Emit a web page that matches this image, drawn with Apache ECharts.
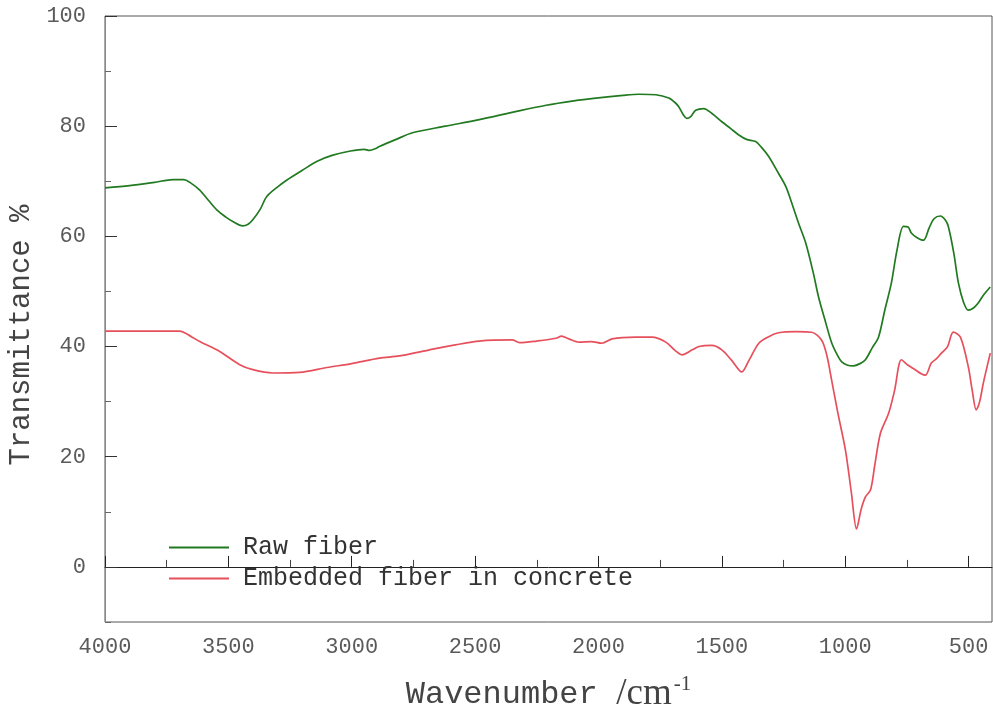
<!DOCTYPE html>
<html>
<head>
<meta charset="utf-8">
<script src="https://cdn.jsdelivr.net/npm/echarts@6/dist/echarts.min.js"></script>
<style>
html,body{margin:0;padding:0;background:#fff;}
#chart{width:993px;height:713px;}
</style>
</head>
<body>
<div id="chart"></div>
<script>
// Raw fiber spectrum (wavenumber cm^-1, transmittance %)
const rawWave = [4000,3900,3800,3725,3680,3656,3616,3580,3547,3510,3482,3442,3420,3401,3370,3345,3300,3264,3200,3142,3080,3005,2950,2928,2900,2888,2820,2754,2620,2483,2350,2212,2100,2010,1900,1836,1767,1715,1690,1674,1655,1642,1625,1606,1573,1540,1500,1465,1431,1400,1363,1340,1310,1271,1240,1217,1190,1160,1130,1108,1080,1055,1030,1014,990,966,940,918,890,865,840,813,790,764,745,732,710,683,660,640,614,595,582,560,541,520,501,480,461,440,412];
const rawT = [68.8,69.2,69.8,70.3,70.3,69.8,68.4,66.5,64.8,63.5,62.7,61.9,62.2,63.0,65.0,67.2,69.0,70.2,72.0,73.6,74.7,75.5,75.8,75.6,76.0,76.3,77.6,78.8,80.0,81.2,82.5,83.8,84.6,85.1,85.6,85.8,85.7,85.1,84.3,83.5,82.0,81.4,81.8,82.9,83.2,82.3,80.8,79.6,78.4,77.6,77.2,76.2,74.5,71.5,69.0,66.1,62.5,58.8,53.5,49.0,44.5,40.7,38.3,37.2,36.6,36.5,36.9,37.6,39.8,41.7,46.5,51.5,57.5,61.8,61.7,60.6,59.8,59.3,61.5,63.2,63.7,63.0,61.8,57.0,51.5,48.0,46.6,47.0,47.9,49.3,50.8];

// Embedded fiber in concrete spectrum
const embWave = [4000,3800,3697,3650,3616,3535,3454,3401,3320,3211,3100,3000,2888,2807,2685,2580,2483,2350,2320,2250,2172,2150,2120,2079,2030,1986,1945,1850,1783,1727,1690,1662,1620,1593,1541,1500,1460,1419,1390,1350,1310,1270,1200,1136,1096,1075,1055,1030,999,975,954,935,918,897,880,857,824,800,772,745,716,690,675,651,630,610,585,562,533,501,485,469,455,440,412];
const embT = [42.8,42.8,42.8,41.8,40.9,39.1,36.7,35.8,35.2,35.3,36.2,36.9,37.9,38.3,39.4,40.3,41.0,41.2,40.7,41.0,41.5,41.9,41.4,40.8,40.9,40.6,41.4,41.7,41.7,40.8,39.3,38.5,39.4,40.0,40.2,39.4,37.5,35.4,37.5,40.6,41.8,42.5,42.7,42.6,41.2,38.5,33.9,28.0,21.2,13.5,6.9,10.5,12.7,14.0,18.5,24.3,27.9,32.0,37.6,36.6,35.8,35.0,34.8,37.0,37.8,38.8,40.0,42.6,41.7,36.3,32.0,28.5,30.0,33.4,38.8];

const seriesNames = ['Raw fiber', 'Embedded fiber in concrete'];
const xMajor = [500,1000,1500,2000,2500,3000,3500,4000];
const xMinor = [750,1250,1750,2250,2750,3250,3750];
const yMajor = [0,20,40,60,80,100];
const yMinor = [-10,10,30,50,70,90];

const pairs = (xs, ys) => xs.map((x, i) => [x, ys[i]]);

const chart = echarts.init(document.getElementById('chart'));
const tickFont = {fontFamily: 'Liberation Mono', fontSize: 22, color: '#5a5a5a', formatter: v => String(v)};

chart.setOption({
  animation: false,
  backgroundColor: '#fff',
  grid: {left: 105, right: 1, top: 16, bottom: 91, show: true, borderColor: '#555', borderWidth: 1,
         containLabel: false, outerBoundsMode: 'none'},
  legend: {
    orient: 'vertical', left: 164, top: 530,
    icon: 'rect', itemWidth: 60, itemHeight: 2, itemGap: 6,
    textStyle: {fontFamily: 'Liberation Mono', fontSize: 25, color: '#333', padding: [0, 0, 0, 9]},
    data: seriesNames
  },
  xAxis: [
    {
      type: 'value', inverse: true, min: 405, max: 4000, position: 'bottom',
      axisLine: {show: true, lineStyle: {color: '#222', width: 1}},
      axisTick: {show: true, inside: true, length: 11, customValues: xMajor, lineStyle: {color: '#222'}},
      axisLabel: Object.assign({customValues: xMajor, margin: 14}, tickFont),
      splitLine: {show: false},
      name: '{a|Wavenumber}{b|  /cm}{c|-1}',
      nameLocation: 'middle', nameGap: 52,
      nameTextStyle: {
        rich: {
          a: {fontFamily: 'Liberation Mono', fontSize: 32, color: '#444'},
          b: {fontFamily: 'Liberation Serif', fontSize: 37, color: '#444'},
          c: {fontFamily: 'Liberation Serif', fontSize: 21, color: '#444', padding: [0, 0, 20, 2]}
        }
      }
    },
    {
      type: 'value', inverse: true, min: 405, max: 4000, position: 'bottom',
      axisLine: {show: false},
      axisTick: {show: true, inside: true, length: 7, customValues: xMinor, lineStyle: {color: '#444'}},
      axisLabel: {show: false},
      splitLine: {show: false}
    }
  ],
  yAxis: [
    {
      type: 'value', min: -10, max: 100, position: 'left',
      axisLine: {show: true, lineStyle: {color: '#7f907f', width: 1}},
      axisTick: {show: true, inside: true, length: 12, customValues: yMajor, lineStyle: {color: '#333'}},
      axisLabel: Object.assign({customValues: yMajor, margin: 19}, tickFont),
      splitLine: {show: false},
      name: 'Transmittance %',
      nameLocation: 'middle', nameGap: 66,
      nameTextStyle: {fontFamily: 'Liberation Mono', fontSize: 29, color: '#444', padding: [0, 32, 0, 0]}
    },
    {
      type: 'value', min: -10, max: 100, position: 'left',
      axisLine: {show: false},
      axisTick: {show: true, inside: true, length: 6, customValues: yMinor, lineStyle: {color: '#666'}},
      axisLabel: {show: false},
      splitLine: {show: false}
    }
  ],
  series: [
    {
      name: seriesNames[0], type: 'line', data: pairs(rawWave, rawT),
      symbol: 'none', smooth: 0.3, color: '#217a21',
      lineStyle: {width: 1.7, color: '#217a21'}
    },
    {
      name: seriesNames[1], type: 'line', data: pairs(embWave, embT),
      symbol: 'none', smooth: 0.3, color: '#e6505c',
      lineStyle: {width: 1.7, color: '#e6505c'}
    }
  ]
});
</script>
</body>
</html>
